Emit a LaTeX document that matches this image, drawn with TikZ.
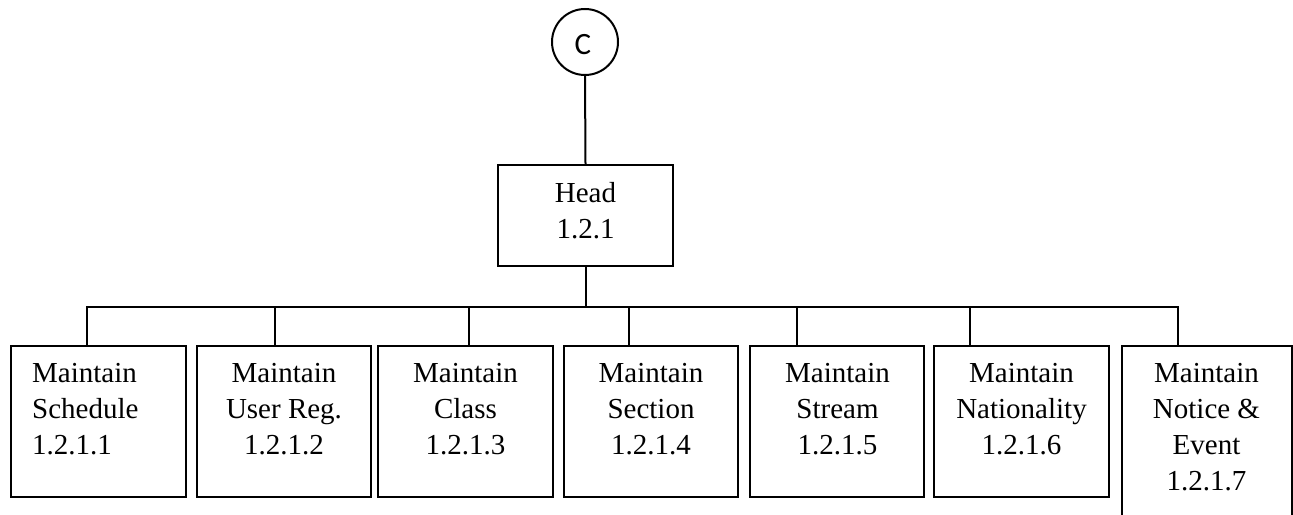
\documentclass[tikz,border=0pt]{standalone}
\usepackage{fontspec}
\setmainfont{Liberation Serif}
\newfontfamily\carlito{Carlito}
\usetikzlibrary{calc}
\tikzset{
  wire/.style={line width=2pt, line cap=rect},
  boxshape/.style={draw, line width=2pt, rectangle, inner sep=0pt},
  boxtext/.style={inner sep=0pt, align=center, font=\fontsize{29}{36}\selectfont},
  lefttext/.style={inner sep=0pt, align=left, font=\fontsize{29}{36}\selectfont},
}
\begin{document}
\begin{tikzpicture}[x=1pt,y=-1pt]
\clip (0,0) rectangle (1293,514);
% circle
\node[draw, circle, line width=2pt, minimum size=66pt, inner sep=0pt] (c) at (585,42) {};
\node[inner sep=0pt, font=\carlito\fontsize{31}{36}\selectfont] (ct) at (583,45) {C};
% head
\node[boxshape, minimum width=175pt, minimum height=101pt] (head) at (585.5,215.5) {};
\node[boxtext, anchor=north] (headt) at (585.5,182) {Head\\1.2.1};
% children boxes
\node[boxshape, minimum width=175pt, minimum height=151pt] (b1) at (98.5,421.5) {};
\node[boxshape, minimum width=174pt, minimum height=151pt] (b2) at (284,421.5) {};
\node[boxshape, minimum width=175pt, minimum height=151pt] (b3) at (465.5,421.5) {};
\node[boxshape, minimum width=174pt, minimum height=151pt] (b4) at (651,421.5) {};
\node[boxshape, minimum width=174pt, minimum height=151pt] (b5) at (837,421.5) {};
\node[boxshape, minimum width=175pt, minimum height=151pt] (b6) at (1021.5,421.5) {};
\node[boxshape, minimum width=170pt, minimum height=200pt] (b7) at (1206.5,446) {};
% texts
\node[lefttext, anchor=north west] (t1) at (32,363.2) {Maintain\\Schedule\\1.2.1.1};
\node[boxtext, anchor=north] (t2) at (284,363.2) {Maintain\\User Reg.\\1.2.1.2};
\node[boxtext, anchor=north] (t3) at (465.5,363.2) {Maintain\\Class\\1.2.1.3};
\node[boxtext, anchor=north] (t4) at (651,363.2) {Maintain\\Section\\1.2.1.4};
\node[boxtext, anchor=north] (t5) at (837.5,363.2) {Maintain\\Stream\\1.2.1.5};
\node[boxtext, anchor=north] (t6) at (1021.5,363.2) {Maintain\\Nationality\\1.2.1.6};
\node[boxtext, anchor=north] (t7) at (1206.5,363.2) {Maintain\\Notice \&\\Event\\1.2.1.7};
% drop points
\coordinate (bar) at (0,307);
\coordinate (d1) at ($(b1.north west)+(77,0)$);
\coordinate (d2) at ($(b2.north west)+(79,0)$);
\coordinate (d3) at ($(b3.north west)+(92,0)$);
\coordinate (d4) at ($(b4.north west)+(66,0)$);
\coordinate (d5) at ($(b5.north west)+(48,0)$);
\coordinate (d6) at ($(b6.north west)+(37,0)$);
\coordinate (d7) at ($(b7.north west)+(57.5,0)$);
% connectors
\draw[wire] (c.south) -- (head.north);
\draw[wire] (head.south) -- (head.south |- bar);
\draw[wire] (d1 |- bar) -- (d7 |- bar);
\foreach \i in {1,...,7} { \draw[wire] (d\i |- bar) -- (d\i); }
\end{tikzpicture}
\end{document}
